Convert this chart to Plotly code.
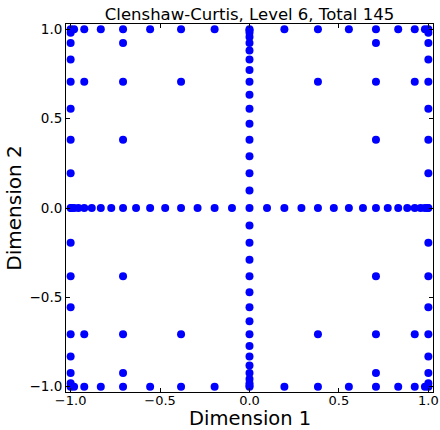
import plotly.graph_objects as go

# Nested 1D Clenshaw-Curtis nodes introduced at each level
level_nodes = [
    [0.0],
    [-1.0, 1.0],
    [-0.7071, 0.7071],
    [-0.9239, -0.3827, 0.3827, 0.9239],
    [-0.9808, -0.8315, -0.5556, -0.1951, 0.1951, 0.5556, 0.8315, 0.9808],
    [-0.9952, -0.9569, -0.8819, -0.7730, -0.6344, -0.4714, -0.2903, -0.0980,
     0.0980, 0.2903, 0.4714, 0.6344, 0.7730, 0.8819, 0.9569, 0.9952],
]
max_level_sum = 5

tick_vals = [-1.0, -0.5, 0.0, 0.5, 1.0]
tick_text = ["\u22121.0", "\u22120.5", "0.0", "0.5", "1.0"]

# Sparse grid: union of tensor products with l1 + l2 <= max_level_sum
xs, ys = [], []
for l1, nodes1 in enumerate(level_nodes):
    for l2, nodes2 in enumerate(level_nodes):
        if l1 + l2 <= max_level_sum:
            for a in nodes1:
                for b in nodes2:
                    xs.append(a)
                    ys.append(b)

font_family = "DejaVu Sans"

fig = go.Figure(
    go.Scatter(
        x=xs, y=ys, mode="markers",
        marker=dict(color="#0000ff", size=8, line=dict(width=0)),
        hoverinfo="skip",
    )
)

axis_common = dict(
    tickvals=tick_vals, ticktext=tick_text,
    ticks="inside", ticklen=4, tickwidth=1, tickcolor="black",
    showline=True, linecolor="black", linewidth=1, mirror="ticks",
    showgrid=False, zeroline=False, automargin=False,
)

fig.update_xaxes(
    range=[-1.026, 1.026],
    ticklabelstandoff=-4,
    tickfont=dict(family=font_family, size=13, color="black"),
    **axis_common,
)
fig.update_yaxes(
    range=[-1.03, 1.03],
    tickfont=dict(family=font_family, size=13.5, color="black"),
    title=dict(text="Dimension 2", font=dict(family=font_family, size=20, color="black"), standoff=2),
    **axis_common,
)

fig.update_layout(
    width=440, height=430,
    margin=dict(l=66, r=7, t=24, b=38),
    paper_bgcolor="white", plot_bgcolor="white",
    showlegend=False,
    title=dict(
        text="Clenshaw-Curtis, Level 6, Total 145",
        font=dict(family=font_family, size=16.5, color="black"),
        x=0.5, xanchor="center", xref="paper",
        y=1, yanchor="bottom", yref="paper", pad=dict(b=4),
    ),
    annotations=[
        dict(
            text="Dimension 1", showarrow=False,
            xref="paper", yref="paper", x=0.5, y=0, xanchor="center", yanchor="top",
            yshift=-14, borderpad=0,
            font=dict(family=font_family, size=19.5, color="black"),
        )
    ],
)

fig.write_html("out.html")
